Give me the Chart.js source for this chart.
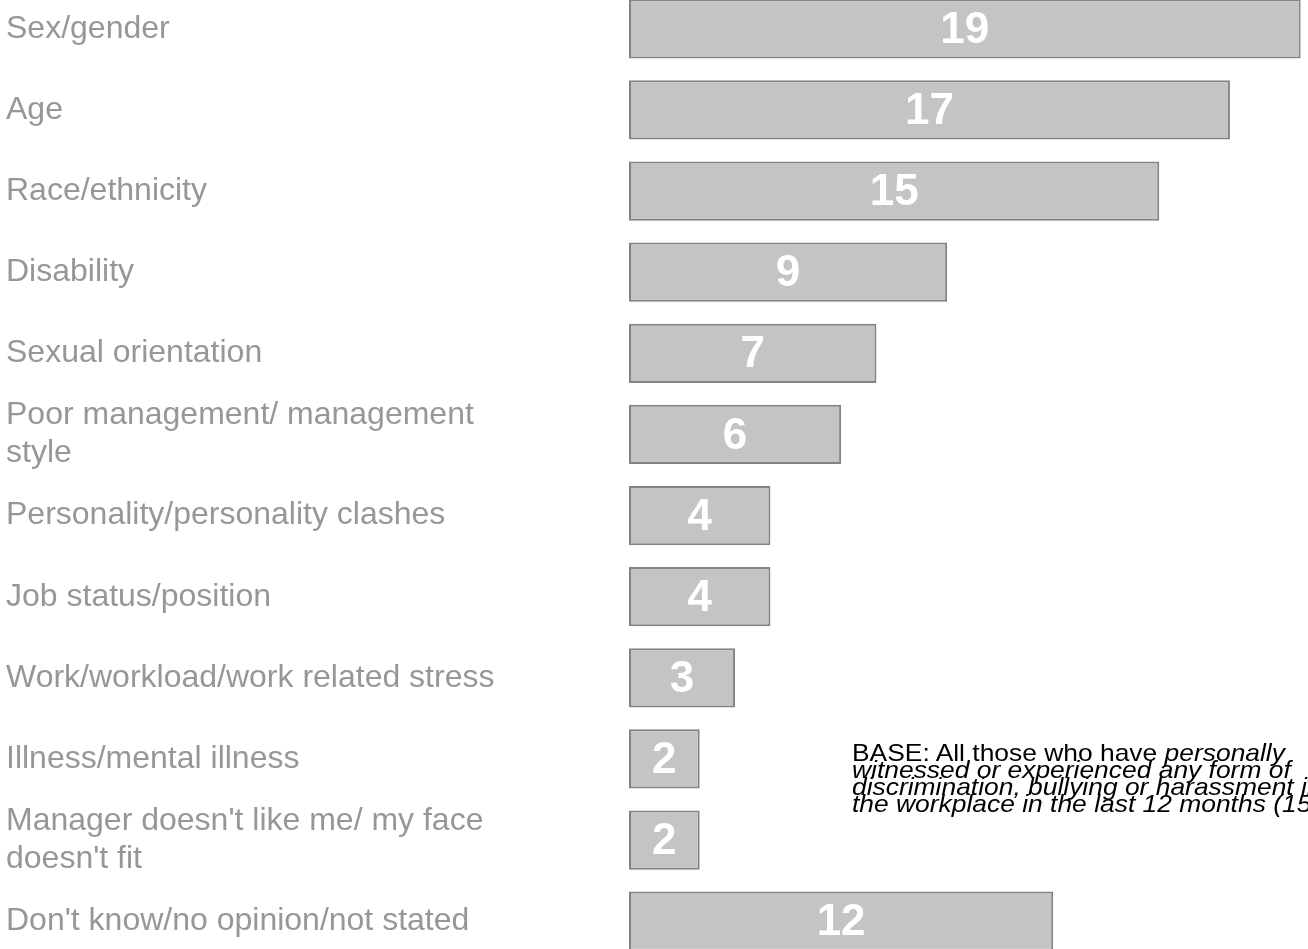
<!DOCTYPE html>
<html>
<head>
<meta charset="utf-8">
<script src="https://cdn.jsdelivr.net/npm/chart.js@4/dist/chart.umd.min.js"></script>
<style>
  html, body { margin: 0; padding: 0; background: #ffffff; overflow: hidden; width: 1308px; height: 949px; }
  #wrap { position: absolute; left: 0; top: -31px; width: 1336px; height: 1012px; }
  #note {
    position: absolute; left: 852px; top: 745px;
    font-family: "Liberation Sans", Arial, sans-serif; font-size: 24px; line-height: 16.9px;
    color: #000; white-space: nowrap;
    transform: scaleX(1.1); transform-origin: left top;
  }
</style>
</head>
<body>
<div id="wrap"><canvas id="c"></canvas></div>
<div id="note">BASE: All those who have <i>personally</i><br><i>witnessed or experienced any form of</i><br><i>discrimination, bullying or harassment in</i><br><i>the workplace in the last 12 months (150)</i></div>
<script>
const categories = [
  "Sex/gender",
  "Age",
  "Race/ethnicity",
  "Disability",
  "Sexual orientation",
  ["Poor management/ management", "style"],
  "Personality/personality clashes",
  "Job status/position",
  "Work/workload/work related stress",
  "Illness/mental illness",
  ["Manager doesn't like me/ my face", "doesn't fit"],
  "Don't know/no opinion/not stated"
];
const values = [19, 17, 15, 9, 7, 6, 4, 4, 3, 2, 2, 12];

const barLabels = {
  id: 'barLabels',
  afterDatasetsDraw(chart) {
    const ctx = chart.ctx;
    const meta = chart.getDatasetMeta(0);
    ctx.save();
    ctx.fillStyle = '#ffffff';
    ctx.font = 'bold 44px "Liberation Sans", Arial, sans-serif';
    ctx.textAlign = 'center';
    ctx.textBaseline = 'middle';
    meta.data.forEach((bar, i) => {
      const cx = (bar.x + bar.base) / 2;
      ctx.fillText(String(values[i]), cx, bar.y + 2);
    });
    ctx.restore();
  }
};

new Chart(document.getElementById('c'), {
  type: 'bar',
  data: {
    labels: categories,
    datasets: [{
      data: values,
      backgroundColor: '#c4c4c4',
      borderColor: '#838383',
      borderWidth: 2,
      borderSkipped: false,
      barPercentage: 0.73,
      categoryPercentage: 1.0
    }]
  },
  options: {
    indexAxis: 'y',
    responsive: true,
    maintainAspectRatio: false,
    animation: false,
    layout: { padding: { left: 6, right: 0, top: 0, bottom: 0 } },
    plugins: { legend: { display: false }, tooltip: { enabled: false }, title: { display: false } },
    scales: {
      x: { display: false, min: 0, max: 20 },
      y: {
        grid: { display: false, drawTicks: false },
        border: { display: false },
        ticks: {
          autoSkip: false,
          crossAlign: 'far',
          padding: 0,
          color: '#979797',
          font: { family: '"Liberation Sans", Arial, sans-serif', size: 32, lineHeight: 1.2 }
        },
        afterFit(scale) { scale.width = 623; }
      }
    }
  },
  plugins: [barLabels]
});
</script>
</body>
</html>
